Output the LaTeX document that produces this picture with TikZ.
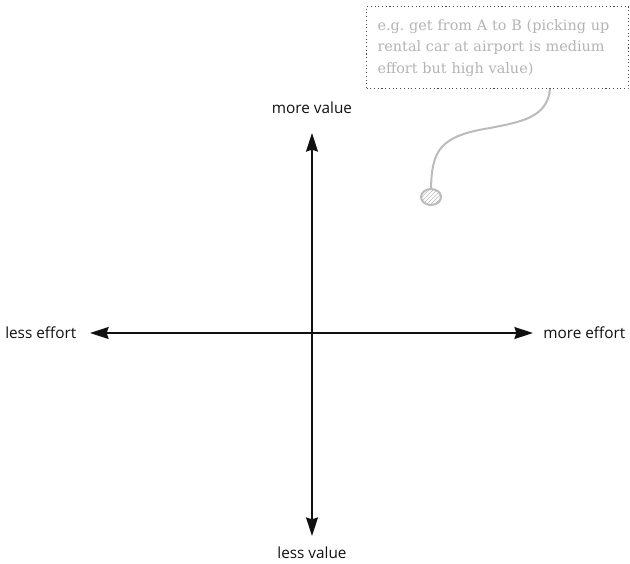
\documentclass[tikz,border=0pt]{standalone}
\usepackage{fontspec}
\setmainfont{Open Sans}
\newfontfamily\notefont{DejaVu Serif}
\usetikzlibrary{arrows.meta,positioning,patterns,shapes.geometric}
\definecolor{axInk}  {HTML}{111111}
\definecolor{noteInk}{HTML}{B4B4B4}
\definecolor{noteRim}{HTML}{4A4A4A}
\definecolor{pinInk} {HTML}{BBBBBB}

\begin{document}
\frenchspacing
\begin{tikzpicture}[x=0.75pt,y=-0.75pt,font=\fontsize{11.5}{13}\selectfont,
      axis/.style={{Stealth[length=14pt,width=9pt,inset=1.5pt]}-{Stealth[length=14pt,width=9pt,inset=1.5pt]},
                   axInk,line width=1pt},
      lbl/.style={text=axInk,inner sep=0pt},
      note/.style={draw=noteRim,dotted,line width=0.8pt,text=noteInk,align=left,
                   text width=180pt,inner xsep=8.25pt,inner ysep=9.5pt,
                   font=\notefont\fontsize{10.8}{16.1}\selectfont},
      pin/.style={ellipse,draw=pinInk,line width=1.5pt,minimum width=15pt,minimum height=12pt,
                  inner sep=0pt,pattern=north east lines,pattern color=pinInk}]

    \useasboundingbox (0,0) rectangle (630,563);

    % the two axes
    \coordinate (vtop) at (312,133);
    \coordinate (vbot) at (312,536);
    \coordinate (hlft) at (90,333);
    \coordinate (hrgt) at (533,333);
    \draw[axis] (vbot) -- (vtop);
    \draw[axis] (hlft) -- (hrgt);

    \node[lbl] (mv) at (312,108) {more value};
    \node[lbl] (lv) at (312,553) {less value};
    \node[lbl,anchor=west] (le) at (5,333) {less effort};
    \node[lbl,anchor=west] (me) at (543,333) {more effort};

    % example pinned in the upper right quadrant
    \node[note,anchor=north west] (ex) at (366,6)
      {e.g. get from A to B (picking up\\rental car at airport is medium\\effort but high value)};
    \node[pin] (p) at (431,197) {};
    \coordinate (tailx) at (550,0);
    \coordinate (tail) at (ex.south -| tailx);
    \draw[pinInk,line width=1.5pt,line cap=round]
      (tail) .. controls (547,118) and (520,122) .. (490,128)
             .. controls (440,136) and (432,150) .. (p.north);
  \end{tikzpicture}
\end{document}
